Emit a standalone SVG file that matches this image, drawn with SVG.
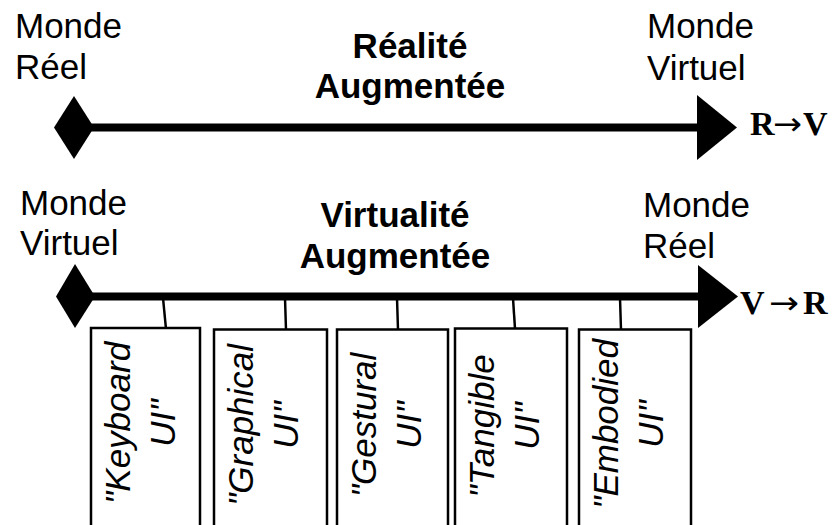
<svg xmlns="http://www.w3.org/2000/svg" width="838" height="525" viewBox="0 0 838 525">
<style>
.lbl{font-family:"Liberation Sans",Arial,sans-serif;font-size:35px;fill:#000}
.ttl{font-family:"Liberation Sans",Arial,sans-serif;font-size:35px;font-weight:bold;fill:#000;text-anchor:middle}
.dir{font-family:"Liberation Serif","Times New Roman",serif;font-size:34px;font-weight:bold;fill:#000}
.arr{font-family:"DejaVu Sans",sans-serif;font-size:32px;fill:#000}
.axis{stroke:#000;stroke-width:8;fill:none}
.box{fill:#fff;stroke:#000;stroke-width:2.5}
.ui{font-family:"Liberation Sans",Arial,sans-serif;font-size:35px;font-style:italic;fill:#000;text-anchor:middle}
.conn{stroke:#000;stroke-width:2.5;fill:none}
</style>
<rect width="838" height="525" fill="#fff"/>
<g id="axis-rv">
<line class="axis" x1="90" y1="127.5" x2="700" y2="127.5"/>
<polygon points="54,127.5 74,96 94,127.5 74,159" fill="#000"/>
<polygon points="697,95 737,127.5 697,160" fill="#000"/>
<text class="lbl" x="15" y="38">Monde</text>
<text class="lbl" x="15" y="79">Réel</text>
<text class="lbl" x="647" y="38">Monde</text>
<text class="lbl" x="647" y="80">Virtuel</text>
<text class="ttl" x="410" y="58">Réalité</text>
<text class="ttl" x="410" y="98">Augmentée</text>
<text class="dir" x="750" y="135">R</text>
<text class="arr" x="773" y="135" textLength="29" lengthAdjust="spacingAndGlyphs">→</text>
<text class="dir" x="803" y="135">V</text>
</g>
<g id="axis-vr">
<line class="axis" x1="90" y1="296.5" x2="700" y2="296.5"/>
<polygon points="56,296.5 75,264 95,296.5 75,328" fill="#000"/>
<polygon points="698,265 738,296.5 698,328" fill="#000"/>
<text class="lbl" x="20" y="215">Monde</text>
<text class="lbl" x="20" y="255">Virtuel</text>
<text class="lbl" x="643" y="217">Monde</text>
<text class="lbl" x="643" y="258">Réel</text>
<text class="ttl" x="395" y="227">Virtualité</text>
<text class="ttl" x="395" y="268">Augmentée</text>
<text class="dir" x="740" y="314">V</text>
<text class="arr" x="769" y="314" textLength="30" lengthAdjust="spacingAndGlyphs">→</text>
<text class="dir" x="803" y="314">R</text>
</g>
<g id="connectors">
<line class="conn" x1="163" y1="298" x2="166" y2="329"/>
<line class="conn" x1="285" y1="298" x2="286" y2="330"/>
<line class="conn" x1="397" y1="298" x2="398" y2="330"/>
<line class="conn" x1="513" y1="298" x2="515" y2="329"/>
<line class="conn" x1="620" y1="298" x2="621" y2="330"/>
</g>
<g id="keyboard-ui">
<rect class="box" x="91" y="328" width="109" height="210"/>
<text class="ui" transform="translate(130,423) rotate(-90)">"Keyboard</text>
<text class="ui" transform="translate(175,423) rotate(-90)">UI"</text>
</g>
<g id="graphical-ui">
<rect class="box" x="214" y="329.5" width="113" height="210"/>
<text class="ui" transform="translate(253,425) rotate(-90)">"Graphical</text>
<text class="ui" transform="translate(298,425) rotate(-90)">UI"</text>
</g>
<g id="gestural-ui">
<rect class="box" x="337" y="329.5" width="111" height="210"/>
<text class="ui" transform="translate(376,425) rotate(-90)">"Gestural</text>
<text class="ui" transform="translate(421,425) rotate(-90)">UI"</text>
</g>
<g id="tangible-ui">
<rect class="box" x="455" y="328.5" width="112" height="210"/>
<text class="ui" transform="translate(494,426) rotate(-90)">"Tangible</text>
<text class="ui" transform="translate(539,426) rotate(-90)">UI"</text>
</g>
<g id="embodied-ui">
<rect class="box" x="579" y="329.5" width="112" height="210"/>
<text class="ui" transform="translate(618,424) rotate(-90)">"Embodied</text>
<text class="ui" transform="translate(663,424) rotate(-90)">UI"</text>
</g>
</svg>
